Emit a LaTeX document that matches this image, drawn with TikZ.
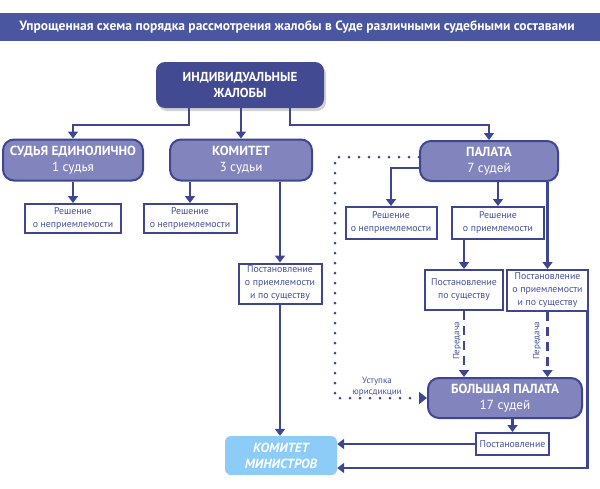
\documentclass[tikz,border=0pt]{standalone}
\usepackage{fontspec}
\setmainfont{PT Sans}
\usetikzlibrary{arrows.meta,shadows}
\definecolor{bar}{RGB}{74,86,160}
\definecolor{dk}{RGB}{66,74,146}
\definecolor{lav}{RGB}{130,132,190}
\definecolor{ln}{RGB}{62,70,145}
\definecolor{txt}{RGB}{70,80,155}
\definecolor{sky}{RGB}{140,204,246}
\begin{document}
\begin{tikzpicture}[x=1pt,y=-1pt,
  conn/.style={draw=ln, line width=2.4pt},
  arr/.style={conn,-{Triangle[width=10pt,length=7pt]}},
  dashconn/.style={arr, dash pattern=on 9pt off 6pt},
  dotconn/.style={draw=ln, line width=3pt, line cap=round, dash pattern=on 0pt off 10pt, -{Triangle[width=12pt,length=8pt]}},
  topnode/.style={fill=dk, rounded corners=9pt, text=white, align=center, inner sep=0pt,
     font=\bfseries\fontsize{13}{16}\selectfont, drop shadow={shadow xshift=2pt, shadow yshift=-3pt, fill=black!35}},
  lvnode/.style={draw=ln, line width=2pt, fill=lav, rounded corners=11pt, text=white, align=center, inner sep=0pt,
     font=\fontsize{13.2}{16}\selectfont},
  smbox/.style={draw=ln, line width=2pt, fill=white, text=txt, align=center, inner sep=0pt,
     font=\fontsize{9.8}{13}\selectfont},
  kmnode/.style={fill=sky, rounded corners=6pt, text=white, align=center, inner sep=0pt,
     font=\bfseries\itshape\fontsize{13.2}{16}\selectfont},
  lbl/.style={text=txt, align=center, inner sep=0pt, font=\fontsize{9}{11.5}\selectfont}
]
\useasboundingbox (0,0) rectangle (600,488);
% title bar
\fill[bar] (0,13) rectangle (600,41);
\node[text=white, font=\bfseries\fontsize{13.5}{15}\selectfont] (title) at (297,27) {Упрощенная схема порядка рассмотрения жалобы в Суде различными судебными составами};

% nodes
\node[topnode, minimum width=168pt, minimum height=46pt] (main) at (240,85) {ИНДИВИДУАЛЬНЫЕ\\ЖАЛОБЫ};
\node[lvnode, minimum width=140pt, minimum height=41pt] (sud) at (73,160) {\textbf{СУДЬЯ ЕДИНОЛИЧНО}\\1 судья};
\node[lvnode, minimum width=142pt, minimum height=41pt] (kom) at (241,160) {\textbf{КОМИТЕТ}\\3 судьи};
\node[lvnode, minimum width=138pt, minimum height=40pt] (pal) at (489,161) {\textbf{ПАЛАТА}\\7 судей};

\node[smbox, minimum width=96pt, minimum height=29pt] (b1) at (73,218.5) {Решение\\о неприемлемости};
\node[smbox, minimum width=93pt, minimum height=29pt] (b2) at (190,218.5) {Решение\\о неприемлемости};
\node[smbox, minimum width=83pt, minimum height=40pt] (b3) at (280,283.5) {Постановление\\о приемлемости\\и по существу};
\node[smbox, minimum width=91pt, minimum height=32pt] (b4) at (391,223) {Решение\\о неприемлемости};
\node[smbox, minimum width=92pt, minimum height=32pt] (b5) at (498,223) {Решение\\о приемлемости};
\node[smbox, minimum width=78pt, minimum height=40pt] (b6) at (464,290) {Постановление\\по существу};
\node[smbox, minimum width=81pt, minimum height=41pt] (b7) at (547.5,290.5) {Постановление\\о приемлемости\\и по существу};

\node[lvnode, minimum width=154pt, minimum height=40pt] (big) at (505,398) {\textbf{БОЛЬШАЯ ПАЛАТА}\\17 судей};
\node[smbox, minimum width=73pt, minimum height=22pt] (post) at (512.5,444) {Постановление};
\node[kmnode, minimum width=112pt, minimum height=39pt] (km) at (281,455.5) {КОМИТЕТ\\МИНИСТРОВ};

% coordinates
\coordinate (jl) at (189,125);
\coordinate (jr) at (290,125);
\coordinate (dc) at (335,157);

% connectors
\draw[arr] (main.south -| jl) -- (jl) -| (sud.north);
\draw[arr] (main.south -| kom.north) -- (kom.north);
\draw[arr] (main.south -| jr) -- (jr) -| (pal.north);

\draw[arr] (sud.south) -- (b1.north);
\draw[arr] (kom.south -| b2.north) -- (b2.north);
\draw[arr] (kom.south -| b3.north) -- (b3.north);
\draw[arr] (b3.south) -- (km.north -| b3.south);

\draw[arr] ([yshift=-7pt]pal.west) -| (b4.north);
\draw[arr] (pal.south -| b5.north) -- (b5.north);
\draw[arr] (pal.south -| b7.north) -- (b7.north);
\draw[arr] (b5.south -| b6.north) -- (b6.north);

\draw[dashconn] (b6.south) -- (big.north -| b6.south);
\draw[dashconn] (b7.south) -- (big.north -| b7.south);
\node[lbl, rotate=90] (pr1) at (457,341) {Передача};
\node[lbl, rotate=90] (pr2) at (537,341) {Передача};

\draw[dotconn] (pal.west |- dc) -- (dc) |- (big.west);
\node[lbl] (ust) at (377,386.5) {Уступка\\юрисдикции};

\draw[arr] (big.south -| post.north) -- (post.north);
\draw[arr] (post.west) -- (km.east |- post.west);
\draw[arr] ([xshift=-1.5pt]b7.south east) |- ([yshift=-12.5pt]km.east);
\end{tikzpicture}
\end{document}
